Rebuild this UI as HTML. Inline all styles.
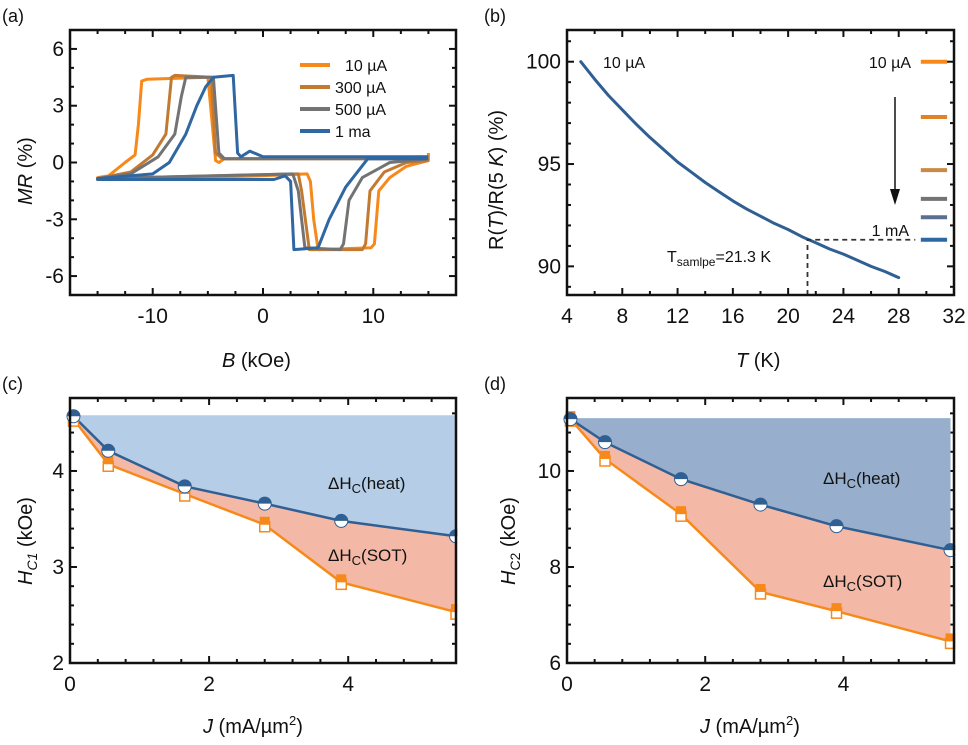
<!DOCTYPE html>
<html><head><meta charset="utf-8">
<style>
html,body{margin:0;padding:0;background:#fff;}
svg{display:block;font-family:"Liberation Sans",Arial,sans-serif;}
</style></head>
<body>
<svg id="fig" width="968" height="745" viewBox="0 0 968 745" xmlns="http://www.w3.org/2000/svg"></svg>
<script>
// ---------- Data ----------
// Panel (a): MR loops, [B, MR] pairs
const aSeriesNames = ["10 µA","300 µA","500 µA","1 ma"];
const aColors = ["#f7891a","#c27a30","#737373","#2f67a3"];
const aCurve10uA = [[15,0.3],[0,0.2],[-3.5,0.2],[-4,0],[-4.3,0.1],[-4.6,2],[-5,4.5],[-10.5,4.4],[-11,4.3],[-11.3,2],[-11.6,0.4],[-12.5,0],[-14,-0.7],[-15,-0.8],[-15,-0.9],[0,-0.7],[4,-0.6],[4.3,-1],[4.6,-3],[5,-4.6],[9.8,-4.5],[10.1,-4.3],[10.5,-1.5],[11.5,-0.8],[13,-0.2],[15,0.1],[15,0.5]];
const aCurve300uA = [[15,0.2],[-3.7,0.2],[-4.3,0.5],[-4.7,4.5],[-8,4.6],[-8.3,4.5],[-8.8,1.5],[-10,0.4],[-12,-0.5],[-15,-0.85],[-15,-0.85],[3.2,-0.6],[3.5,-1.5],[4.2,-4.6],[9,-4.6],[9.3,-4.3],[9.7,-1.5],[11,-0.5],[13,0],[15,0.1]];
const aCurve500uA = [[15,0.2],[-3.5,0.2],[-4,0.5],[-4.5,4.5],[-7,4.5],[-7.4,3.5],[-8,1.5],[-9.5,0.3],[-12,-0.6],[-15,-0.85],[-15,-0.85],[2.7,-0.6],[3.2,-1.5],[3.8,-4.5],[7,-4.6],[7.3,-4.3],[7.8,-2],[9,-0.8],[11.5,0],[15,0.2]];
const aCurve1mA = [[15,0.3],[0,0.3],[-1.2,0.6],[-2,0.3],[-2.3,0.5],[-2.7,4.6],[-4.5,4.5],[-5.2,4],[-6,3],[-7,1.5],[-8.5,0],[-10,-0.6],[-15,-0.85],[-15,-0.9],[1,-0.9],[2,-0.7],[2.5,-1],[2.8,-4.6],[5,-4.5],[6,-3],[7.5,-1.3],[9.5,0.2],[15,0.2]];
const aCurves = [aCurve10uA,aCurve300uA,aCurve500uA,aCurve1mA];
const aXTicks = [-10,0,10];
const aYTicks = [-6,-3,0,3,6];

// Panel (b): R(T)/R(5K)
const bT = [5,6,7,8,9,10,11,12,13,14,15,16,17,18,19,20,21,22,23,24,25,26,27,28];
const bR = [100,99.15,98.35,97.65,96.95,96.3,95.7,95.1,94.6,94.1,93.65,93.2,92.8,92.45,92.1,91.8,91.45,91.15,90.85,90.6,90.3,90.0,89.75,89.45];
const bXTicks = [4,8,12,16,20,24,28,32];
const bYTicks = [90,95,100];
const bTsample = 21.4;
const bRsample = 91.3;
const bLegendLevels = [100,97.3,94.7,93.3,92.4,91.3];
const bLegendColors = ["#f7891a","#e0822a","#c98a45","#737373","#5a7090","#2f67a3"];

// Panel (c)
const cJ = [0.05,0.55,1.65,2.8,3.9,5.55];
const cHeat = [4.57,4.21,3.84,3.66,3.48,3.32];
const cSOT = [4.54,4.07,3.76,3.44,2.84,2.53];
const cXTicks = [0,2,4];
const cYTicks = [2,3,4];
// Panel (d)
const dJ = [0.05,0.55,1.65,2.8,3.9,5.55];
const dHeat = [11.08,10.6,9.83,9.3,8.85,8.35];
const dSOT = [11.08,10.25,9.1,7.48,7.08,6.45];
const dXTicks = [0,2,4];
const dYTicks = [6,8,10];

// ---------- helpers ----------
const NS = "http://www.w3.org/2000/svg";
const svg = document.getElementById("fig");
function mk(tag, attrs, parent){
  const e = document.createElementNS(NS, tag);
  for (const k in attrs) e.setAttribute(k, attrs[k]);
  (parent||svg).appendChild(e);
  return e;
}
function scale(d0,d1,r0,r1){ return v => r0 + (v-d0)/(d1-d0)*(r1-r0); }

function axes(p){
  const g = mk("g",{});
  
  
  const X = scale(p.xd[0],p.xd[1],p.x0,p.x1), Y = scale(p.yd[0],p.yd[1],p.y1,p.y0);
  const eps=1e-6;
  for (let v=Math.ceil(p.xd[0]/p.xMin-eps)*p.xMin; v<=p.xd[1]+eps; v+=p.xMin){
    const maj = Math.abs(v/p.xMaj-Math.round(v/p.xMaj))<1e-4;
    const L = maj?7:4, x=X(v);
    mk("line",{x1:x,x2:x,y1:p.y1,y2:p.y1-L,stroke:"#111","stroke-width":2},g);
    mk("line",{x1:x,x2:x,y1:p.y0,y2:p.y0+L,stroke:"#111","stroke-width":2},g);
  }
  for (let v=Math.ceil(p.yd[0]/p.yMin-eps)*p.yMin; v<=p.yd[1]+eps; v+=p.yMin){
    const maj = Math.abs(v/p.yMaj-Math.round(v/p.yMaj))<1e-4;
    const L = maj?7:4, y=Y(v);
    mk("line",{x1:p.x0,x2:p.x0+L,y1:y,y2:y,stroke:"#111","stroke-width":2},g);
    mk("line",{x1:p.x1,x2:p.x1-L,y1:y,y2:y,stroke:"#111","stroke-width":2},g);
  }
  p.xTicks.forEach(v=>{
    const t = mk("text",{x:X(v),y:p.y1+28,"font-size":21,"text-anchor":"middle",fill:"#111"},g);
    
    
    t.textContent = v;
  });
  p.yTicks.forEach(v=>{
    const t = mk("text",{x:p.x0-6,y:Y(v)+7,"font-size":21,"text-anchor":"end",fill:"#111"},g);
    
    
    t.textContent = v;
  });
  return {X,Y,g};
}
function frame(p){
  const r = mk("rect",{x:p.x0,y:p.y0,width:p.x1-p.x0,height:p.y1-p.y0,fill:"none",stroke:"#111","stroke-width":2.5});
  
  
}
function label(txt,x,y,name,extra){
  const t = mk("text",Object.assign({x:x,y:y,"font-size":18,fill:"#111"},extra||{}));
  
  
  t.innerHTML = txt;
  return t;
}

// ---------- Panel (a) ----------
const pa = {name:"panel-a",x0:70,x1:456,y0:30,y1:295,xd:[-17.5,17.5],yd:[-7,7],xMaj:10,xMin:2.5,yMaj:3,yMin:1,xTicks:aXTicks,yTicks:aYTicks};
const A = axes(pa);
aCurves.forEach((c,i)=>{
  const d = c.map((p,j)=>(j?"L":"M")+A.X(p[0]).toFixed(1)+","+A.Y(p[1]).toFixed(1)).join(" ");
  const path = mk("path",{d:d,fill:"none",stroke:aColors[i],"stroke-width":3,"stroke-linejoin":"round"});
  
  
});
aSeriesNames.forEach((n,i)=>{
  const y = 65+i*22;
  const l = mk("line",{x1:300,x2:330,y1:y,y2:y,stroke:aColors[i],"stroke-width":4});
  
  
  label(n, i==0?345:335, y+6, 'legend-entry',{"font-size":16});
});
frame(pa);
label("(a)",2,22,"panel-label-a");
label('<tspan font-style="italic">MR</tspan> (%)',0,0,"y-axis-title-a",{"font-size":20,transform:"translate(32,205) rotate(-90)"});
label('<tspan font-style="italic">B</tspan> (kOe)',222,367,"x-axis-title-a",{"font-size":20});

// ---------- Panel (b) ----------
const pb = {name:"panel-b",x0:567,x1:954,y0:30,y1:295,xd:[4,32],yd:[88.6,101.55],xMaj:4,xMin:2,yMaj:5,yMin:1,xTicks:bXTicks,yTicks:bYTicks};
const B = axes(pb);
{
  const d = bT.map((t,j)=>(j?"L":"M")+B.X(t).toFixed(1)+","+B.Y(bR[j]).toFixed(1)).join(" ");
  const path = mk("path",{d:d,fill:"none",stroke:"#2f5f93","stroke-width":3,"stroke-linejoin":"round","stroke-linecap":"round"});
  
  
  const dash = mk("path",{d:`M${B.X(bTsample)},${pb.y1} L${B.X(bTsample)},${B.Y(bRsample)} L${B.X(29.2)},${B.Y(bRsample)}`,fill:"none",stroke:"#333","stroke-width":1.8,"stroke-dasharray":"5,4"});
  
  
  bLegendLevels.forEach((v,i)=>{
    const l = mk("line",{x1:B.X(29.6),x2:B.X(31.5),y1:B.Y(v),y2:B.Y(v),stroke:bLegendColors[i],"stroke-width":4});
    
    
  });
  const ar = mk("line",{x1:895,x2:895,y1:97,y2:195,stroke:"#111","stroke-width":1.5});
  
  
  const ah = mk("polygon",{points:"890,189 900,189 895,205",fill:"#111"});
  
  
}
label("10 µA",603,68,"curve-label",{"font-size":16});
label("10 µA",911,68,"legend-top-label",{"font-size":16,"text-anchor":"end"});
label("1 mA",909,236,"legend-bottom-label",{"font-size":16,"text-anchor":"end"});
label('T<tspan font-size="12" dy="4">samlpe</tspan><tspan dy="-4">=21.3 K</tspan>',667,262,"sample-temperature-label",{"font-size":16});
frame(pb);
label("(b)",484,22,"panel-label-b");
label('R(<tspan font-style="italic">T</tspan>)/R(5 <tspan font-style="italic">K</tspan>) (%)',0,0,"y-axis-title-b",{"font-size":20,transform:"translate(503,250) rotate(-90)"});
label('<tspan font-style="italic">T</tspan> (K)',736,367,"x-axis-title-b",{"font-size":20});

// ---------- Panels (c), (d) ----------
function hcPanel(p,J,heat,sot,top,heatFill,tag){
  const S = axes(p);
  const X=S.X, Y=S.Y;
  const heatPts = J.map((j,i)=>X(j).toFixed(1)+","+Y(heat[i]).toFixed(1));
  const sotPts = J.map((j,i)=>X(j).toFixed(1)+","+Y(sot[i]).toFixed(1));
  const xr = Math.min(X(J[J.length-1]),p.x1);
  const hf = mk("polygon",{points:`${X(J[0])},${Y(top)} ${xr},${Y(top)} `+heatPts.slice().reverse().join(" "),fill:heatFill});
  
  
  const sf = mk("polygon",{points:heatPts.join(" ")+" "+sotPts.slice().reverse().join(" "),fill:"#f3b8a6"});
  
  
  const hl = mk("polyline",{points:heatPts.join(" "),fill:"none",stroke:"#2f5f93","stroke-width":2.5});
  
  
  const sl = mk("polyline",{points:sotPts.join(" "),fill:"none",stroke:"#f7891a","stroke-width":2.5});
  
  
  J.forEach((j,i)=>{
    const x=X(j), ys=Y(sot[i]);
    const s1 = mk("rect",{x:x-5,y:ys-3,width:10,height:10,fill:"#fff",stroke:"#f7891a","stroke-width":1.5});
    
    
    const s2 = mk("rect",{x:x-5,y:ys-8,width:10,height:8,fill:"#f7891a"});
    
    
    const yh=Y(heat[i]);
    const c1 = mk("circle",{cx:x,cy:yh,r:6.5,fill:"#fff",stroke:"#2f5f93","stroke-width":1});
    
    
    const c2 = mk("path",{d:`M${x-6.5},${yh} A6.5,6.5 0 0 1 ${x+6.5},${yh} Z`,fill:"#2f5f93"});
    
    
  });
  const w = mk("rect",{x:p.x1+1.3,y:p.y0-10,width:14,height:p.y1-p.y0+20,fill:"#fff"});
  
  
  frame(p);
  return S;
}
const pc = {name:"panel-c",x0:70,x1:456,y0:398,y1:663,xd:[0,5.55],yd:[2,4.76],xMaj:2,xMin:0.4,yMaj:1,yMin:0.2,xTicks:cXTicks,yTicks:cYTicks};
hcPanel(pc,cJ,cHeat,cSOT,4.58,"#b5cde6","c");
label('ΔH<tspan font-size="13" dy="4">C</tspan><tspan dy="-4">(heat)</tspan>',328,489,"heat-region-label-c",{"font-size":17});
label('ΔH<tspan font-size="13" dy="4">C</tspan><tspan dy="-4">(SOT)</tspan>',328,561,"sot-region-label-c",{"font-size":17});
label("(c)",2,390,"panel-label-c");
label('<tspan font-style="italic">H<tspan font-size="14" dy="5">C1</tspan></tspan><tspan dy="-5"> (kOe)</tspan>',0,0,"y-axis-title-c",{"font-size":20,transform:"translate(32,585) rotate(-90)"});
label('<tspan font-style="italic">J</tspan> (mA/µm<tspan font-size="13" dy="-8">2</tspan><tspan dy="8">)</tspan>',203,733,"x-axis-title-c",{"font-size":20});

const pd = {name:"panel-d",x0:567,x1:954,y0:398,y1:663,xd:[0,5.6],yd:[6,11.52],xMaj:2,xMin:0.4,yMaj:2,yMin:0.4,xTicks:dXTicks,yTicks:dYTicks};
hcPanel(pd,dJ,dHeat,dSOT,11.1,"#97afcc","d");
label('ΔH<tspan font-size="13" dy="4">C</tspan><tspan dy="-4">(heat)</tspan>',823,484,"heat-region-label-d",{"font-size":17});
label('ΔH<tspan font-size="13" dy="4">C</tspan><tspan dy="-4">(SOT)</tspan>',823,587,"sot-region-label-d",{"font-size":17});
label("(d)",484,390,"panel-label-d");
label('<tspan font-style="italic">H</tspan><tspan font-size="14" dy="5">C2</tspan><tspan dy="-5"> (kOe)</tspan>',0,0,"y-axis-title-d",{"font-size":20,transform:"translate(515,585) rotate(-90)"});
label('<tspan font-style="italic">J</tspan> (mA/µm<tspan font-size="13" dy="-8">2</tspan><tspan dy="8">)</tspan>',700,733,"x-axis-title-d",{"font-size":20});
</script>
</body></html>
